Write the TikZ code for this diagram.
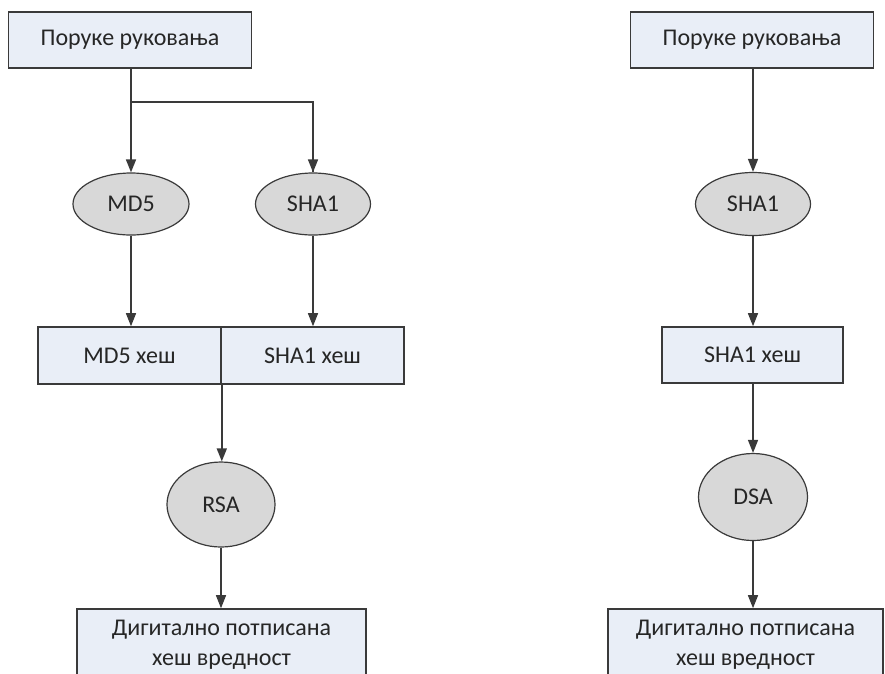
\documentclass[tikz,border=0pt]{standalone}
\usepackage{fontspec}
\setmainfont{Carlito}
\usetikzlibrary{shapes.geometric,arrows.meta}
\definecolor{boxfill}{HTML}{E9EEF7}
\definecolor{ovalfill}{HTML}{D8D8D8}
\definecolor{ink}{HTML}{3A3A3A}
\definecolor{txt}{HTML}{262626}
\begin{document}
\begin{tikzpicture}[x=1pt,y=-1pt,
  every node/.style={font=\fontsize{24}{30}\selectfont, text=txt},
  msgbox/.style={draw=ink, line width=1.6pt, fill=boxfill, rectangle, inner sep=0pt},
  hashop/.style={draw=ink, line width=1.2pt, fill=ovalfill, ellipse, inner sep=0pt},
  flow/.style={draw=ink, line width=1.4pt, -{Triangle[length=13pt,width=10pt]}},
  link/.style={draw=ink, line width=1.4pt}]
\useasboundingbox (0,0) rectangle (885,673);
\clip (0,0) rectangle (885,673);

% left chain: MD5 + SHA1, signed with RSA
\node[msgbox, minimum width=243pt, minimum height=56pt] (topL) at (130,40) {Поруке руковања};
\node[hashop, minimum width=116pt, minimum height=62pt] (md5) at (131,204) {MD5};
\node[hashop, minimum width=115pt, minimum height=62pt] (shaL) at (313,204) {SHA1};
\node[msgbox, minimum width=183pt, minimum height=57pt] (md5h) at (129.5,355.5) {MD5 хеш};
\node[msgbox, minimum width=183pt, minimum height=57pt] (shaLh) at (312.5,355.5) {SHA1 хеш};
\node[hashop, minimum width=108pt, minimum height=85pt] (rsa) at (221,504.5) {RSA};
\node[msgbox, minimum width=289pt, minimum height=72pt, align=center] (sigL) at (221.5,645)
  {Дигитално потписана\\хеш вредност};

\coordinate (fork) at (131,102);
\draw[link] (topL.south -| fork) -- (fork);
\draw[flow] (fork) -- (md5.north);
\draw[link] (fork) -| (shaL.north);
\draw[flow] (fork -| shaL.north) -- (shaL.north);
\draw[flow] (md5.south) -- (md5 |- md5h.north);
\draw[flow] (shaL.south) -- (shaL |- shaLh.north);
\draw[flow] (md5h.south east) -- (md5h.south east |- rsa.north);
\draw[flow] (rsa.south) -- (rsa |- sigL.north);

% right chain: SHA1 only, signed with DSA
\node[msgbox, minimum width=243pt, minimum height=56pt] (topR) at (752,40) {Поруке руковања};
\node[hashop, minimum width=115pt, minimum height=63pt] (shaR) at (753,204) {SHA1};
\node[msgbox, minimum width=181pt, minimum height=56pt] (shaRh) at (752.5,355) {SHA1 хеш};
\node[hashop, minimum width=109pt, minimum height=87pt] (dsa) at (753,497) {DSA};
\node[msgbox, minimum width=275pt, minimum height=72pt, align=center] (sigR) at (745.5,645)
  {Дигитално потписана\\хеш вредност};

\draw[flow] (topR.south -| shaR) -- (shaR.north);
\draw[flow] (shaR.south) -- (shaR |- shaRh.north);
\draw[flow] (shaRh.south -| dsa) -- (dsa.north);
\draw[flow] (dsa.south) -- (dsa |- sigR.north);
\end{tikzpicture}
\end{document}
